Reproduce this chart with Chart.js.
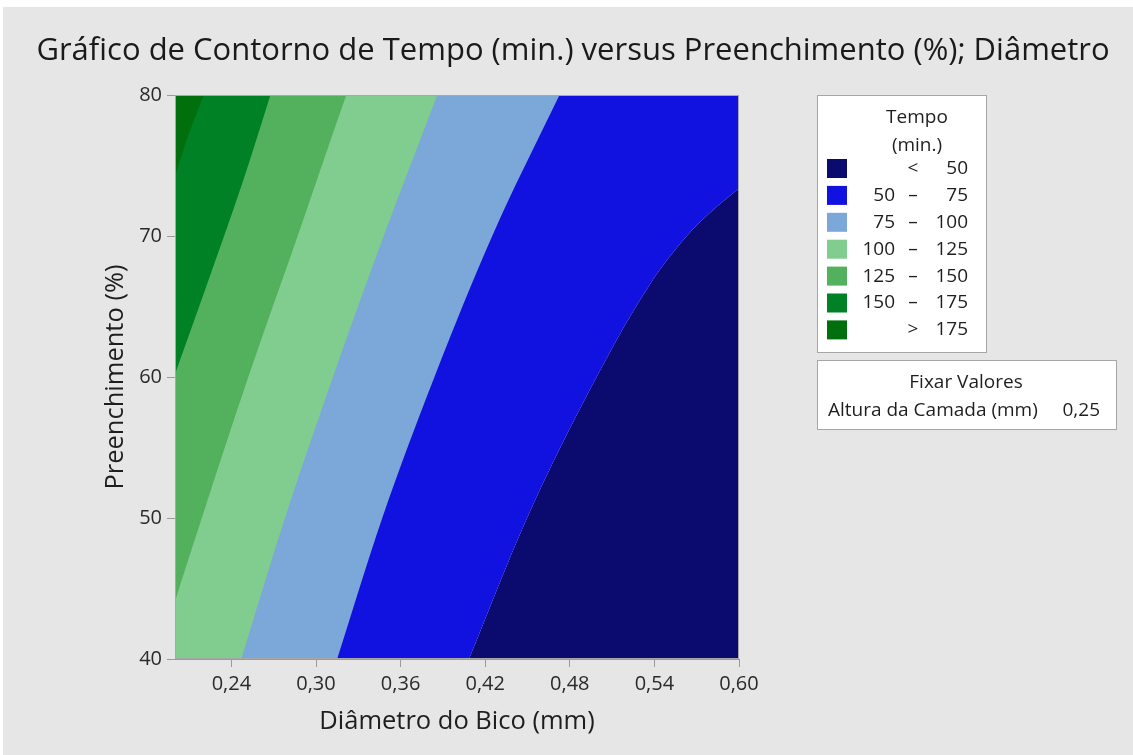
<!DOCTYPE html>
<html>
<head>
<meta charset="utf-8">
<script src="https://cdn.jsdelivr.net/npm/chart.js@4"></script>
<style>
  html, body { margin: 0; background: #fff; }
  #wrap { position: absolute; left: 3px; top: 7px; width: 1130px; height: 748px; background: #e6e6e6; }
</style>
</head>
<body>
<div id="wrap"><canvas id="contour" width="1130" height="748"></canvas></div>
<script>
// contour levels of Tempo (min.) and the colour of each band, lowest first
const levels = [50, 75, 100, 125, 150, 175];
const bandColors = ['#0b0a6e', '#1111e0', '#7ba7d9', '#81cd90', '#53b15d', '#008126', '#006f0c'];

// contour lines: Diâmetro do Bico (x) against Preenchimento (y), points run past the frame
const c50Diam  = [0.195, 0.4085, 0.4497, 0.499, 0.537, 0.563, 0.580, 0.599, 0.620];
const c50Fill  = [-12, 40, 50, 60, 66.6, 70, 71.7, 73.3, 74.9];
const c75Diam  = [0.195, 0.315, 0.347, 0.384, 0.425, 0.4727, 0.480];
const c75Fill  = [2.5, 40, 50, 60, 70, 80, 81.5];
const c100Diam = [0.195, 0.247, 0.278, 0.312, 0.348, 0.386, 0.392];
const c100Fill = [23.2, 40, 50, 60, 70, 80, 81.6];
const c125Diam = [0.185, 0.2004, 0.219, 0.252, 0.287, 0.3215, 0.328];
const c125Fill = [39.2, 44.2, 50, 60, 70, 80, 81.8];
const c150Diam = [0.185, 0.2025, 0.2228, 0.2476, 0.2677, 0.274];
const c150Fill = [56, 60.9, 66.6, 73.7, 80, 82];
const c175Diam = [0.189, 0.2004, 0.2096, 0.2204, 0.226];
const c175Fill = [71, 74.4, 77.2, 80, 81.5];

const diameterTicks = [0.24, 0.30, 0.36, 0.42, 0.48, 0.54, 0.60];
const fillTicks = [40, 50, 60, 70, 80];

const legendRows = [['', '<', '50'], ['50', '–', '75'], ['75', '–', '100'], ['100', '–', '125'],
                    ['125', '–', '150'], ['150', '–', '175'], ['', '>', '175']];
const holdLabel = 'Altura da Camada (mm)';
const holdValue = '0,25';

const FONT = '"Open Sans", "Noto Sans", sans-serif';

const contours = [
    { level: 50, x: c50Diam, y: c50Fill },
    { level: 75, x: c75Diam, y: c75Fill },
    { level: 100, x: c100Diam, y: c100Fill },
    { level: 125, x: c125Diam, y: c125Fill },
    { level: 150, x: c150Diam, y: c150Fill },
    { level: 175, x: c175Diam, y: c175Fill }
];

function toPoints(xs, ys) {
    return xs.map((x, i) => ({ x: x, y: ys[i] }));
}

const lineStyle = {
    borderWidth: 0,
    borderColor: 'rgba(0,0,0,0)',
    pointRadius: 0,
    cubicInterpolationMode: 'monotone'
};

// everything right of the 50 contour is the lowest band
const datasets = [Object.assign({
    label: '< 50',
    data: toPoints(c50Diam, c50Fill),
    fill: 'start',
    backgroundColor: bandColors[0],
    order: 0
}, lineStyle)];

// each contour fills towards the top-left, higher levels painted over lower ones
contours.forEach((c, i) => {
    datasets.push(Object.assign({
        label: '> ' + c.level,
        data: toPoints(c.x, c.y),
        fill: 'end',
        backgroundColor: bandColors[i + 1],
        order: -c.level
    }, lineStyle));
});

const titlePlugin = {
    id: 'wideTitle',
    afterDraw(chart) {
        const ctx = chart.ctx;
        ctx.save();
        ctx.fillStyle = '#1a1a1a';
        ctx.font = '31px ' + FONT;
        ctx.textAlign = 'center';
        ctx.textBaseline = 'middle';
        ctx.fillText('Gráfico de Contorno de Tempo (min.) versus Preenchimento (%); Diâmetro', 570, 44);
        ctx.restore();
    }
};

const framePlugin = {
    id: 'frame',
    afterDatasetsDraw(chart) {
        const { ctx, chartArea: a } = chart;
        ctx.save();
        ctx.strokeStyle = '#a8a8a8';
        ctx.lineWidth = 1;
        ctx.strokeRect(a.left + 0.5, a.top + 0.5, a.right - a.left - 1, a.bottom - a.top - 1);
        ctx.restore();
    }
};

const legendPlugin = {
    id: 'bandLegend',
    afterDraw(chart) {
        const ctx = chart.ctx;
        ctx.save();
        ctx.fillStyle = '#fff';
        ctx.strokeStyle = '#a6a6a6';
        ctx.lineWidth = 1;
        ctx.fillRect(814, 88, 169, 257);
        ctx.strokeRect(814.5, 88.5, 169, 257);
        ctx.fillRect(814, 353, 299, 69);
        ctx.strokeRect(814.5, 353.5, 299, 69);

        ctx.fillStyle = '#1e1e1e';
        ctx.font = '19px ' + FONT;
        ctx.textBaseline = 'middle';
        ctx.textAlign = 'center';
        ctx.fillText('Tempo', 914, 111);
        ctx.fillText('(min.)', 914, 139);

        legendRows.forEach((row, i) => {
            const y = 161.5 + i * 26.9;
            ctx.fillStyle = bandColors[i];
            ctx.fillRect(824, y - 9.5, 20, 19);
            ctx.fillStyle = '#1e1e1e';
            ctx.textAlign = 'right';
            ctx.fillText(row[0], 892, y);
            ctx.fillText(row[2], 965, y);
            ctx.textAlign = 'center';
            ctx.fillText(row[1], 910, y);
        });

        ctx.textAlign = 'center';
        ctx.fillText('Fixar Valores', 963, 376);
        ctx.textAlign = 'left';
        ctx.fillText(holdLabel, 825, 404);
        ctx.textAlign = 'right';
        ctx.fillText(holdValue, 1097, 404);
        ctx.restore();
    }
};

new Chart(document.getElementById('contour'), {
    type: 'line',
    data: { datasets: datasets },
    options: {
        responsive: false,
        animation: false,
        events: [],
        layout: { padding: { top: 88, right: 394, bottom: 0, left: 0 } },
        plugins: {
            legend: { display: false },
            tooltip: { enabled: false },
            title: { display: false }
        },
        scales: {
            x: {
                type: 'linear',
                min: 0.2,
                max: 0.6,
                afterBuildTicks: s => { s.ticks = diameterTicks.map(v => ({ value: v })); },
                afterFit: s => { s.height = 96; },
                ticks: {
                    autoSkip: false,
                    maxRotation: 0,
                    padding: 5,
                    color: '#2a2a2a',
                    font: { family: FONT, size: 20 },
                    callback: v => v.toFixed(2).replace('.', ',')
                },
                grid: { drawOnChartArea: false, drawTicks: true, tickLength: 8, color: '#9a9a9a' },
                border: { display: true, color: '#9a9a9a' },
                title: {
                    display: true,
                    text: 'Diâmetro do Bico (mm)',
                    color: '#1e1e1e',
                    font: { family: FONT, size: 25.5 },
                    padding: { top: 0, bottom: 18 }
                }
            },
            y: {
                min: 40,
                max: 80,
                afterBuildTicks: s => { s.ticks = fillTicks.map(v => ({ value: v })); },
                afterFit: s => { s.width = 172; },
                ticks: {
                    padding: 5,
                    color: '#2a2a2a',
                    font: { family: FONT, size: 20 }
                },
                grid: { drawOnChartArea: false, drawTicks: true, tickLength: 8, color: '#9a9a9a' },
                border: { display: true, color: '#9a9a9a' },
                title: {
                    display: true,
                    text: 'Preenchimento (%)',
                    color: '#1e1e1e',
                    font: { family: FONT, size: 25.5 },
                    padding: { top: 97, bottom: 0 }
                }
            }
        }
    },
    plugins: [titlePlugin, framePlugin, legendPlugin]
});
</script>
</body>
</html>
